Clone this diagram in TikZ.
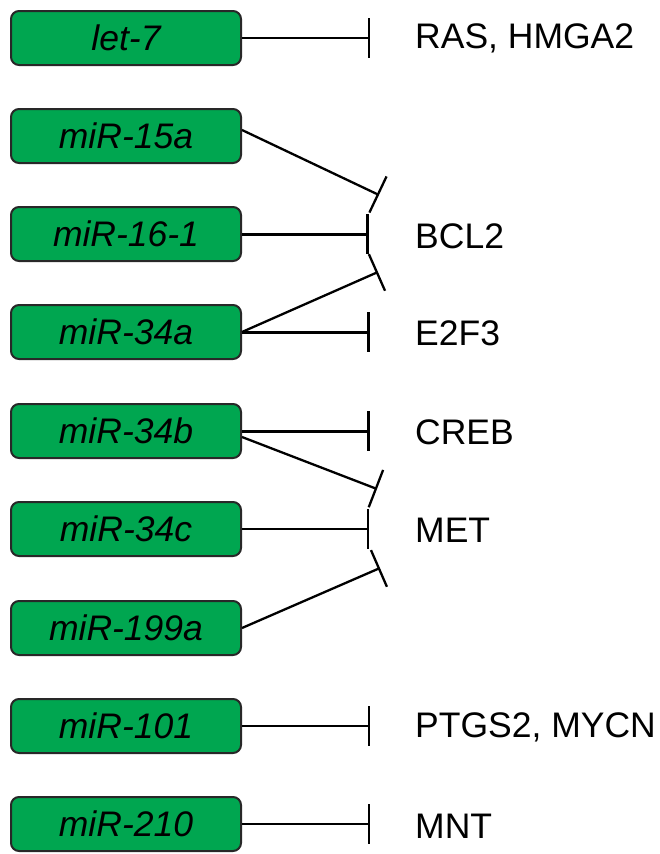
\documentclass[tikz,border=0pt]{standalone}
\usepackage{fontspec}
\setmainfont{Liberation Sans}
\usetikzlibrary{arrows.meta}
\definecolor{mirgreen}{RGB}{0,166,80}
\definecolor{boxedge}{RGB}{40,40,40}
\tikzset{
  mirbox/.style={draw=boxedge, line width=2pt, fill=mirgreen, rounded corners=8pt,
    minimum width=230pt, minimum height=54pt, inner sep=0pt, anchor=west,
    font=\fontsize{35.5}{40}\selectfont\itshape},
  target/.style={anchor=west, inner sep=0pt, font=\fontsize{35.5}{40}\selectfont},
  inhib/.style={line width=2.3pt, -{Bar[width=40pt]}},
  inhibthick/.style={line width=3pt, -{Bar[width=40pt]}}
}
\begin{document}
\begin{tikzpicture}[x=1pt,y=-1pt]
\useasboundingbox (0,0) rectangle (659,854);
% boxes
\node[mirbox] (let7) at (10,38) {let-7};
\node[mirbox] (m15a) at (10,136) {miR-15a};
\node[mirbox] (m161) at (10,234) {miR-16-1};
\node[mirbox] (m34a) at (10,332) {miR-34a};
\node[mirbox] (m34b) at (10,431) {miR-34b};
\node[mirbox] (m34c) at (10,529) {miR-34c};
\node[mirbox] (m199) at (10,628) {miR-199a};
\node[mirbox] (m101) at (10,726) {miR-101};
\node[mirbox] (m210) at (10,824) {miR-210};
% targets
\node[target] (ras) at (415,38) {RAS, HMGA2};
\node[target] (bcl2) at (415,236) {BCL2};
\node[target] (e2f3) at (415,333) {E2F3};
\node[target] (creb) at (415,432) {CREB};
\node[target] (met) at (415,530) {MET};
\node[target] (ptgs) at (415,727) {PTGS2, MYCN};
\node[target] (mnt) at (415,826) {MNT};
% bar end points
\coordinate (b7) at (370,38);
\coordinate (b15) at (379,195);
\coordinate (b16) at (369,234);
\coordinate (b34a) at (378,272);
\coordinate (be2) at (370,332);
\coordinate (bcr) at (370,431);
\coordinate (b34b) at (377,489);
\coordinate (b34c) at (369,529);
\coordinate (b199) at (380,568);
\coordinate (b101) at (370,726);
\coordinate (b210) at (370,824);
% connectors
\draw[inhib] (let7.east) -- (b7);
\draw[inhib] ([yshift=6pt]m15a.east) -- (b15);
\draw[inhibthick] (m161.east) -- (b16);
\draw[inhib] (m34a.east) -- (b34a);
\draw[inhibthick] (m34a.east) -- (be2);
\draw[inhibthick] (m34b.east) -- (bcr);
\draw[inhib] ([yshift=-6pt]m34b.east) -- (b34b);
\draw[inhib] (m34c.east) -- (b34c);
\draw[inhib] (m199.east) -- (b199);
\draw[inhib] (m101.east) -- (b101);
\draw[inhib] (m210.east) -- (b210);
\end{tikzpicture}
\end{document}
